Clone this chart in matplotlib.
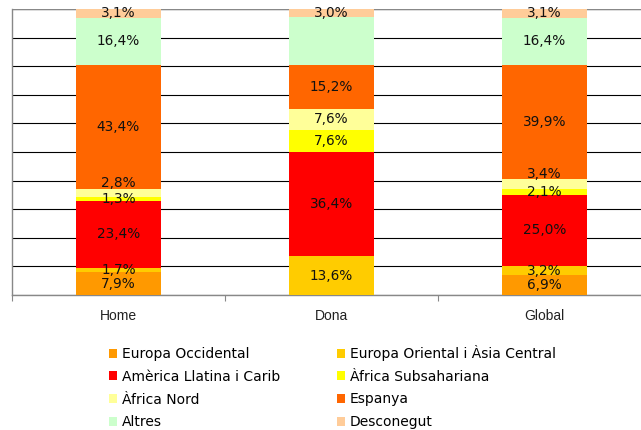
import matplotlib
matplotlib.use("Agg")
import matplotlib.pyplot as plt
import numpy as np

categories = ["Home", "Dona", "Global"]
series_names = ["Europa Occidental", "Europa Oriental i Àsia Central",
                "Amèrica Llatina i Carib", "Àfrica Subsahariana",
                "Àfrica Nord", "Espanya", "Altres", "Desconegut"]
europa_occ = [7.9, 0.0, 6.9]
europa_ori = [1.7, 13.6, 3.2]
america = [23.4, 36.4, 25.0]
africa_sub = [1.3, 7.6, 2.1]
africa_nord = [2.8, 7.6, 3.4]
espanya = [43.4, 15.2, 39.9]
altres = [16.4, 16.7, 16.4]
desconegut = [3.1, 3.0, 3.1]
# which labels are shown (Dona "Altres" has no label in the original)
show_label = {"Altres": [True, False, True], "Europa Occidental": [True, False, True]}
# vertical nudges (points) of crowded labels
label_nudge = {"Àfrica Nord": [7, 0, 7]}

colors = ["#FF9900", "#FFCC00", "#FF0000", "#FFFF00", "#FFFF99", "#FF6600", "#CCFFCC", "#FFCC99"]
values = [europa_occ, europa_ori, america, africa_sub, africa_nord, espanya, altres, desconegut]

fig = plt.figure(figsize=(6.41, 4.30), dpi=100)
ax = fig.add_axes([12/641, 135/430, 639/641, 286/430])

x = np.arange(len(categories))
bottom = np.zeros(len(categories))
handles = []
for name, vals, col in zip(series_names, values, colors):
    vals = np.array(vals)
    bars = ax.bar(x, vals, 0.4, bottom=bottom, color=col, zorder=3, linewidth=0)
    handles.append(bars)
    flags = show_label.get(name, [True] * len(categories))
    nudges = label_nudge.get(name, [0] * len(categories))
    for i, v in enumerate(vals):
        if v > 0 and flags[i]:
            ax.annotate(f"{v:.1f}%".replace(".", ","), (x[i], bottom[i] + v / 2),
                        xytext=(0, nudges[i]), textcoords="offset points",
                        ha="center", va="center", fontsize=9.8, color="#111111",
                        family="DejaVu Sans", zorder=5)
    bottom += vals

ax.set_xlim(-0.5, 2.5)
ax.set_ylim(0, 100)
ax.set_yticks(np.arange(0, 101, 10))
ax.set_yticklabels([])
ax.tick_params(axis="y", length=0)
ax.yaxis.grid(True, color="#000000", linewidth=0.8, zorder=0)
ax.set_axisbelow(True)
ax.set_xticks(x)
ax.set_xticklabels(categories, family="Liberation Sans", fontsize=10, color="#222222")
ax.tick_params(axis="x", which="major", length=0, pad=10)
ax.set_xticks([-0.5, 0.5, 1.5, 2.5], minor=True)
ax.tick_params(axis="x", which="minor", length=4, color="#888888", width=0.8)
for s in ["top", "right"]:
    ax.spines[s].set_visible(False)
for s in ["left", "bottom"]:
    ax.spines[s].set_color("#888888")
    ax.spines[s].set_linewidth(1.0)
ax.axhline(100, color="#888888", linewidth=1.0, zorder=1)

order = [0, 2, 4, 6, 1, 3, 5, 7]
fig.legend([handles[i] for i in order], [series_names[i] for i in order],
           ncol=2, loc="upper left", bbox_to_anchor=(109/641, 1 - 345/430),
           frameon=False, prop={"family": "DejaVu Sans", "size": 10},
           handlelength=0.6, handleheight=0.6, handletextpad=0.35,
           labelspacing=0.63, columnspacing=4.05, borderpad=0, borderaxespad=0)

fig.savefig("out.png", dpi=100)
